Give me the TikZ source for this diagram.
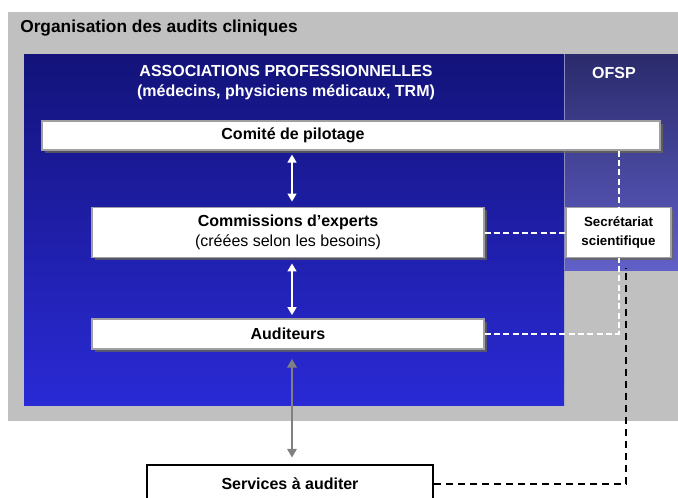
\documentclass[tikz,border=0pt]{standalone}
\usepackage{fontspec}
\setmainfont{Liberation Sans}
\usetikzlibrary{arrows.meta,shadows,calc}

\definecolor{panelgray}{HTML}{C0C0C0}
\definecolor{navytop}{HTML}{13137A}
\definecolor{navybot}{HTML}{2A2AD6}
\definecolor{ofsptop}{HTML}{2A2A6C}
\definecolor{ofspbot}{HTML}{6060C8}
\definecolor{divider}{HTML}{8A8AC0}
\definecolor{arrowgray}{HTML}{808080}
\definecolor{boxedge}{HTML}{A0A0A0}
\definecolor{shadowtone}{HTML}{6A6A50}

\tikzset{
  box/.style={draw=boxedge, fill=white, line width=0.8pt, inner sep=0pt,
    drop shadow={shadow xshift=2pt, shadow yshift=-2pt, opacity=0.7, fill=shadowtone}},
  boxtext/.style={font=\fontsize{12}{15}\selectfont\bfseries, align=center, inner sep=0pt},
  headtext/.style={text=white, font=\fontsize{12}{15}\selectfont\bfseries, align=center, inner sep=0pt},
  whitearrow/.style={white, line width=1.6pt,
    {Triangle[length=6pt,width=6.5pt]}-{Triangle[length=6pt,width=6.5pt]}},
  grayarrow/.style={arrowgray, line width=1.7pt,
    {Triangle[length=6.5pt,width=7pt]}-{Triangle[length=6.5pt,width=7pt]}},
  whitedash/.style={white, line width=1.5pt, dash pattern=on 4.5pt off 2.5pt},
  blackdash/.style={black, line width=1.5pt, dash pattern=on 5.5pt off 3.5pt},
}

\begin{document}
\begin{tikzpicture}[x=0.75pt, y=-0.75pt]
\useasboundingbox (0,0) rectangle (678,497);
\clip (0,0) rectangle (678,497);
\fill[white] (0,0) rectangle (678,497);

% outer frame
\fill[panelgray] (8,12) rectangle (690,421);
\node[anchor=west, inner sep=0pt, font=\fontsize{13}{15}\selectfont\bfseries] (title) at (20,28)
  {Organisation des audits cliniques};

% professional associations area and OFSP column
\shade[top color=navytop, bottom color=navybot] (24,54) rectangle (564,405);
\shade[top color=ofsptop, bottom color=ofspbot] (564,54) rectangle (690,270);
\draw[divider, line width=0.6pt] (564,54) -- (564,270);

\node[headtext] (assoc) at (286,83)
  {ASSOCIATIONS PROFESSIONNELLES\\(médecins, physiciens médicaux, TRM)};
\node[headtext] (ofsp) at (614,73) {OFSP};

% boxes
\node[box, minimum width=463.5pt, minimum height=21.75pt] (comite) at (351,135.5) {};
\node[boxtext] (comitetext) at (293,135) {Comité de pilotage};

\node[box, minimum width=294pt, minimum height=37.5pt, font=\fontsize{12}{15}\selectfont, align=center]
  (commissions) at (288,232.5) {\textbf{Commissions d’experts}\\(créées selon les besoins)};

\node[box, minimum width=294pt, minimum height=22.5pt, font=\fontsize{12}{15}\selectfont\bfseries]
  (auditeurs) at (288,334) {Auditeurs};

\node[box, minimum width=78.75pt, minimum height=37.5pt, align=center,
  font=\fontsize{10}{14}\selectfont\bfseries]
  (secretariat) at (618.5,232.5) {Secrétariat\\scientifique};

\node[draw=black, fill=white, line width=1.2pt, minimum width=214.5pt, minimum height=28.5pt,
  inner sep=0pt, font=\fontsize{12}{15}\selectfont\bfseries]
  (services) at (290,484) {Services à auditer};

% links to the scientific secretariat
\draw[whitedash] (commissions.east) -- (secretariat.west);
\draw[whitedash] (comite.south -| secretariat.north) -- (secretariat.north);
\draw[whitedash] (auditeurs.east) -| (secretariat.south);
\coordinate (secend) at (626,268);
\draw[blackdash] (services.east) -| (secend);

% vertical arrows
\coordinate (ax) at (292,0);
\draw[whitearrow, shorten <=3pt, shorten >=4pt] (comite.south -| ax) -- (commissions.north -| ax);
\draw[whitearrow, shorten <=4pt, shorten >=2.5pt] (commissions.south -| ax) -- (auditeurs.north -| ax);
\draw[grayarrow, shorten <=7pt, shorten >=5pt] (auditeurs.south -| ax) -- (services.north -| ax);
\end{tikzpicture}
\end{document}
